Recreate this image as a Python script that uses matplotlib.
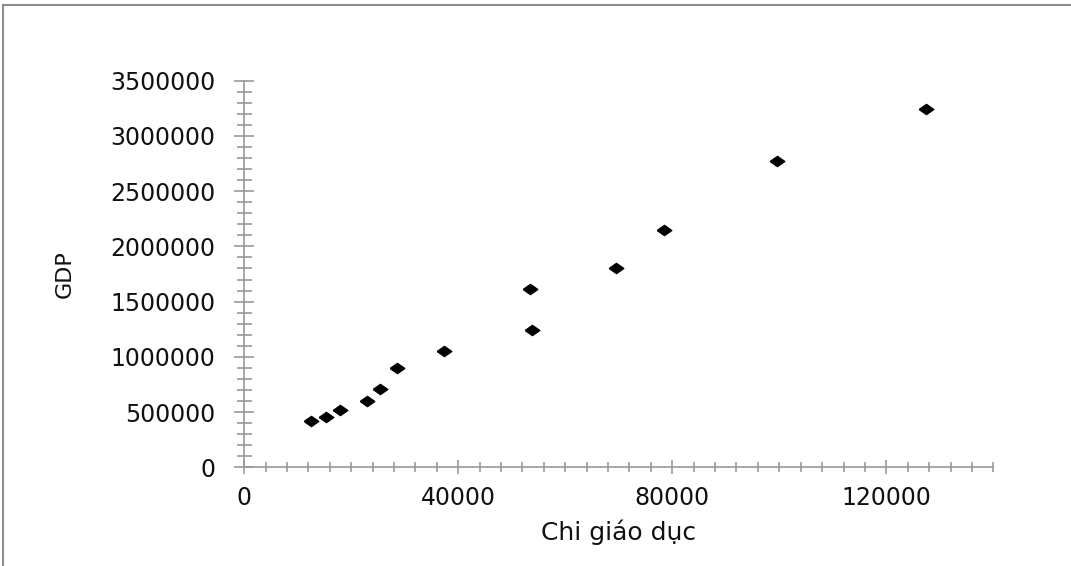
import matplotlib.pyplot as plt
from matplotlib.lines import Line2D
from matplotlib.ticker import MultipleLocator

# Chi giáo dục vs GDP
chi_giao_duc = [12500, 15200, 17900, 22900, 25400, 28500, 37300,
                53500, 53800, 69500, 78500, 99600, 127400]
gdp = [421000, 458000, 518000, 600000, 705000, 895000, 1052000,
       1610000, 1242000, 1800000, 2152000, 2773000, 3247000]

axis_grey = '#999999'

fig = plt.figure(figsize=(10.71, 5.66), dpi=100)
ax = fig.add_axes([0.228, 0.1744, 0.6995, 0.683])

# flattened diamond like the original
diamond = [(-1, 0), (0, 0.7), (1, 0), (0, -0.7), (-1, 0)]
ax.plot(chi_giao_duc, gdp, linestyle='none', marker=diamond,
        markersize=10.5, color='black')

ax.set_xlim(0, 140000)
ax.set_ylim(0, 3500000)
ax.xaxis.set_major_locator(MultipleLocator(40000))
ax.xaxis.set_minor_locator(MultipleLocator(4000))
ax.yaxis.set_major_locator(MultipleLocator(500000))
ax.yaxis.set_minor_locator(MultipleLocator(100000))

for side in ['top', 'right']:
    ax.spines[side].set_visible(False)
for side in ['left', 'bottom']:
    ax.spines[side].set_color(axis_grey)
    ax.spines[side].set_linewidth(1.2)

ax.tick_params(axis='x', which='major', direction='inout', length=10,
               width=1.2, color=axis_grey, pad=8.5, labelsize=17)
ax.tick_params(axis='x', which='minor', direction='inout', length=6.5,
               width=1.2, color=axis_grey)
ax.tick_params(axis='y', which='major', direction='inout', length=15,
               width=1.2, color=axis_grey, pad=13.4, labelsize=17)
ax.tick_params(axis='y', which='minor', direction='inout', length=10.8,
               width=1.2, color=axis_grey)
for a in (ax.xaxis, ax.yaxis):
    a.get_major_formatter().set_scientific(False)
    a.get_major_formatter().set_useOffset(False)
for lbl in ax.get_xticklabels() + ax.get_yticklabels():
    lbl.set_color('#111111')

ax.set_xlabel('Chi giáo dục', fontsize=18, color='#111111', labelpad=7)
ax.set_ylabel('GDP', fontsize=16, color='#111111', labelpad=25)

# grey frame of the original picture (left and top edges)
fig.add_artist(Line2D([0.0025, 0.0025], [0, 0.991], transform=fig.transFigure,
                      color='#8c8c8c', linewidth=1.5))
fig.add_artist(Line2D([0.0025, 1.0], [0.991, 0.991], transform=fig.transFigure,
                      color='#8c8c8c', linewidth=1.5))

fig.savefig('out.png', dpi=100)
